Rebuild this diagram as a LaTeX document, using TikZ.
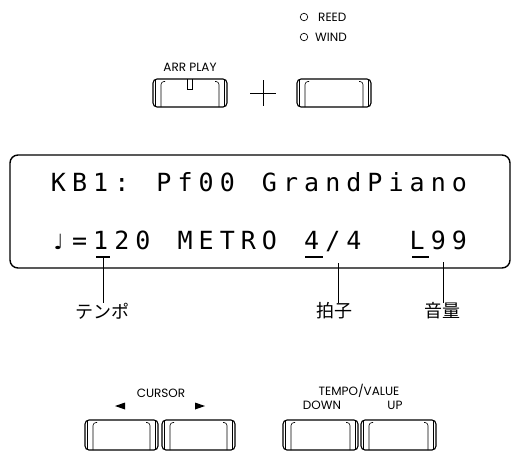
\documentclass[tikz,border=0pt]{standalone}
\usepackage{fontspec}
\setmainfont{Poppins}
\newfontfamily\cjk{Noto Sans CJK JP}
\newfontfamily\lcdfont{DejaVu Sans Mono}
\newfontfamily\symfont{DejaVu Sans}
\tikzset{
  lab/.style={font=\fontsize{12}{12}\selectfont, inner sep=0pt},
  jlab/.style={font=\cjk\fontsize{18}{18}\selectfont, inner sep=0pt},
  lcdch/.style={font=\lcdfont\fontsize{25}{25}\selectfont, inner sep=0pt, anchor=base},
  btn/.style={draw, line width=1.1pt, rounded corners=4pt, inner sep=0pt,
    path picture={
      \draw[line width=0.8pt] ([xshift=2.5pt]path picture bounding box.north west) -- ([xshift=2.5pt]path picture bounding box.south west);
      \draw[line width=0.8pt] ([xshift=-2.5pt]path picture bounding box.north east) -- ([xshift=-2.5pt]path picture bounding box.south east);
      \draw[line width=0.6pt, rounded corners=3pt] ([xshift=12pt,yshift=-2.5pt]path picture bounding box.north west) -- ([xshift=8pt,yshift=-2.5pt]path picture bounding box.north west) -- ([xshift=8pt]path picture bounding box.south west);
      \draw[line width=0.6pt, rounded corners=3pt] ([xshift=-12pt,yshift=-2.5pt]path picture bounding box.north east) -- ([xshift=-8pt,yshift=-2.5pt]path picture bounding box.north east) -- ([xshift=-8pt]path picture bounding box.south east);
    }},
  leader/.style={line width=0.8pt},
  uline/.style={line width=1.6pt}
}
\begin{document}
\begin{tikzpicture}[x=1pt,y=-1pt]
\useasboundingbox (0,0) rectangle (513,451);

% top: LEDs
\node[circle, draw, line width=0.7pt, minimum size=7.5pt, inner sep=0pt] (ledr) at (304,17) {};
\node[lab, anchor=west] (reed) at (318,17) {REED};
\node[circle, draw, line width=0.7pt, minimum size=7.5pt, inner sep=0pt] (ledw) at (304,37) {};
\node[lab, anchor=west] (wind) at (315,37) {WIND};

% top buttons
\node[lab] (arrlab) at (190,67) {ARR PLAY};
\node[btn, minimum width=74pt, minimum height=28pt] (arr) at (190,93) {};
\draw[line width=0.8pt] (187.5,79) -- (187.5,89) -- (192.5,89) -- (192.5,79);
\node[btn, minimum width=74pt, minimum height=28pt] (voice) at (334,93) {};
\coordinate (plus) at (263,93);
\draw[line width=1pt] ([xshift=-13pt]plus) -- ([xshift=13pt]plus);
\draw[line width=1pt] ([yshift=13pt]plus) -- ([yshift=-13pt]plus);

% LCD
\node[draw, line width=1.4pt, rounded corners=8pt, minimum width=500pt, minimum height=113pt] (lcd) at (260,211.5) {};
\foreach \ch [count=\i from 0] in {K,B,1,:,{},P,f,0,0,{},G,r,a,n,d,P,i,a,n,o}
  \node[lcdch] (a\i) at (58.5+21.1*\i,191) {\ch};
\node[font=\symfont\fontsize{21}{21}\selectfont, inner sep=0pt, anchor=base] (note) at (58.5,249) {♩};
\foreach \ch [count=\i from 1] in {=,1,2,0,{},M,E,T,R,O,{},4,/,4,{},{},L,9,9}
  \node[lcdch] (b\i) at (58.5+21.1*\i,249) {\ch};

% underlines
\coordinate (u1) at (103,257);
\coordinate (u2) at (338,263);
\coordinate (u3) at (443,262);
\draw[uline] (96,257) -- (110,257);
\draw[uline] (305,257) -- (323,257);
\draw[uline] (412,257) -- (429,257);

% labels
\node[jlab] (tempo) at (102,311) {テンポ};
\node[jlab] (beat) at (334,311) {拍子};
\node[jlab] (vol) at (442,311) {音量};
\draw[leader] (u1) -- (u1 |- tempo.north);
\draw[leader] (u2) -- (u2 |- beat.north);
\draw[leader] (u3) -- (u3 |- vol.north);

% bottom: cursor
\node[lab] (cursor) at (161,393) {CURSOR};
\fill (115,406) -- (125,402.5) -- (125,409.5) -- cycle;
\fill (205,406) -- (195,402.5) -- (195,409.5) -- cycle;
\node[btn, minimum width=73pt, minimum height=30pt] (cl) at (121.5,435) {};
\node[btn, minimum width=73pt, minimum height=30pt] (cr) at (198.5,435) {};

% bottom: tempo/value
\node[lab] (tv) at (359,391) {TEMPO/VALUE};
\node[lab] (down) at (322,405) {DOWN};
\node[lab] (up) at (395,405) {UP};
\node[btn, minimum width=75pt, minimum height=30pt] (bd) at (320.5,435) {};
\node[btn, minimum width=75pt, minimum height=30pt] (bu) at (398.5,435) {};
\end{tikzpicture}
\end{document}
